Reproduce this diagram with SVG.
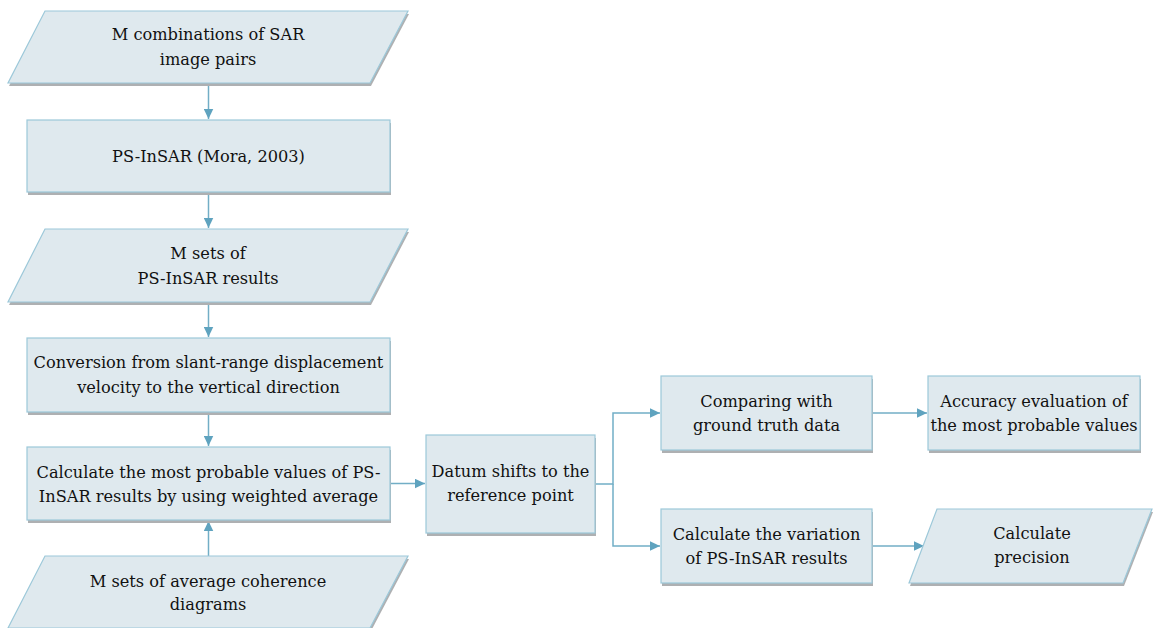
<svg xmlns="http://www.w3.org/2000/svg" width="1153" height="628" viewBox="0 0 1153 628">
<style>
.box{fill:#dfe9ee;stroke:#9cc8d9;stroke-width:1.2}
.sh{fill:#aeb0b2}
.t{font-family:"DejaVu Serif",serif;font-size:16.2px;fill:#111;text-anchor:middle}
.c{fill:none;stroke:#72aec6;stroke-width:1.5}
</style>
<defs>
<marker id="ah" markerUnits="userSpaceOnUse" markerWidth="10" markerHeight="10" refX="10" refY="4.75" orient="auto" viewBox="0 0 10 9.5">
<path d="M0,0 L10,4.75 L0,9.5 z" fill="#5fa3bf"/>
</marker>
</defs>
<rect width="1153" height="628" fill="#fff"/>
<g id="connectors">
<path class="c" d="M208.5,83 V119" marker-end="url(#ah)"/>
<path class="c" d="M208.5,192 V228" marker-end="url(#ah)"/>
<path class="c" d="M208.5,302 V337" marker-end="url(#ah)"/>
<path class="c" d="M208.5,412 V446" marker-end="url(#ah)"/>
<path class="c" d="M208.5,556 V521" marker-end="url(#ah)"/>
<path class="c" d="M390,483.5 H425" marker-end="url(#ah)"/>
<path class="c" d="M595,484 H613 V413 H660" marker-end="url(#ah)"/>
<path class="c" d="M613,484 V546 H660" marker-end="url(#ah)"/>
<path class="c" d="M872,413 H927" marker-end="url(#ah)"/>
<path class="c" d="M872,546 H924" marker-end="url(#ah)"/>
</g>
<g id="n1">
<polygon class="sh" points="46,14 409,14 371,86 9,86"/>
<polygon class="box" points="45,11 408,11 370,83 8,83"/>
<text class="t" x="208" y="40">M combinations of SAR</text>
<text class="t" x="208" y="65">image pairs</text>
</g>
<g id="n2">
<rect class="sh" x="28" y="123" width="363" height="72"/>
<rect class="box" x="27" y="120" width="363" height="72"/>
<text class="t" x="208.5" y="162">PS-InSAR (Mora, 2003)</text>
</g>
<g id="n3">
<polygon class="sh" points="46,232 409,232 371,305 9,305"/>
<polygon class="box" points="45,229 408,229 370,302 8,302"/>
<text class="t" x="208" y="259">M sets of</text>
<text class="t" x="208" y="284">PS-InSAR results</text>
</g>
<g id="n4">
<rect class="sh" x="28" y="341" width="363" height="74"/>
<rect class="box" x="27" y="338" width="363" height="74"/>
<text class="t" x="208.5" y="368">Conversion from slant-range displacement</text>
<text class="t" x="208.5" y="393">velocity to the vertical direction</text>
</g>
<g id="n5">
<rect class="sh" x="28" y="450" width="363" height="73"/>
<rect class="box" x="27" y="447" width="363" height="73"/>
<text class="t" x="208.5" y="478">Calculate the most probable values of PS-</text>
<text class="t" x="208.5" y="502">InSAR results by using weighted average</text>
</g>
<g id="n6">
<polygon class="sh" points="46,559 409,559 371,631 9,631"/>
<polygon class="box" points="45,556 408,556 370,628 8,628"/>
<text class="t" x="208" y="587">M sets of average coherence</text>
<text class="t" x="208" y="610">diagrams</text>
</g>
<g id="n7">
<rect class="sh" x="427" y="438" width="169" height="98"/>
<rect class="box" x="426" y="435" width="169" height="98"/>
<text class="t" x="510.5" y="477">Datum shifts to the</text>
<text class="t" x="510.5" y="501">reference point</text>
</g>
<g id="n8">
<rect class="sh" x="662" y="379" width="211" height="74"/>
<rect class="box" x="661" y="376" width="211" height="74"/>
<text class="t" x="766.5" y="407">Comparing with</text>
<text class="t" x="766.5" y="431">ground truth data</text>
</g>
<g id="n9">
<rect class="sh" x="929" y="379" width="212" height="74"/>
<rect class="box" x="928" y="376" width="212" height="74"/>
<text class="t" x="1034" y="407">Accuracy evaluation of</text>
<text class="t" x="1034" y="431">the most probable values</text>
</g>
<g id="n10">
<rect class="sh" x="662" y="512" width="211" height="74"/>
<rect class="box" x="661" y="509" width="211" height="74"/>
<text class="t" x="766.5" y="540">Calculate the variation</text>
<text class="t" x="766.5" y="564">of PS-InSAR results</text>
</g>
<g id="n11">
<polygon class="sh" points="938,512 1153,512 1124,586 910,586"/>
<polygon class="box" points="937,509 1152,509 1123,583 909,583"/>
<text class="t" x="1032" y="539">Calculate</text>
<text class="t" x="1032" y="563">precision</text>
</g>
</svg>
